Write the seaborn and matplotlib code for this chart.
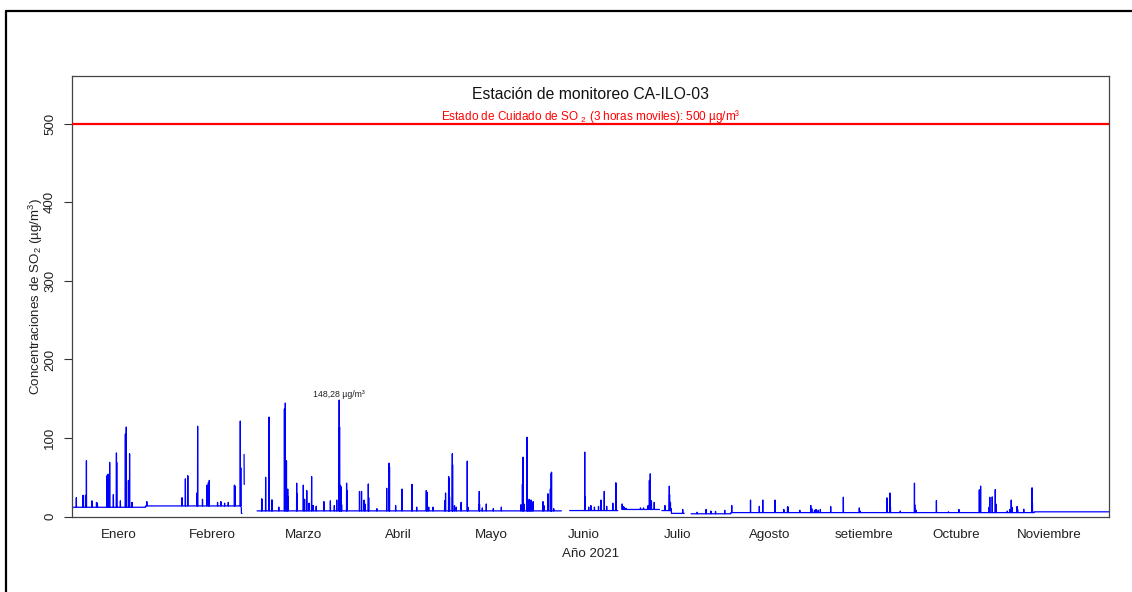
import numpy as np
import pandas as pd
import matplotlib
matplotlib.use("Agg")
import matplotlib.pyplot as plt
from matplotlib.lines import Line2D
import seaborn as sns

# ---- data (day of year 2021, 0 = 1 January; hourly SO2 in ug/m3) ----
# contiguous measurement periods
seg_start = [0.0, 55.25, 56.15, 60.4, 162.4, 179.5, 192.5, 202.0]
seg_end = [55.2, 55.45, 56.25, 159.7, 178.1, 191.7, 199.8, 338.4]

# background level, valid from the given day onward
level_from = [0.0, 24.0, 55.25, 56.15, 60.4, 162.4, 179.5, 192.5, 195.6, 202.0, 215.0, 314.0]
level_value = [11.8, 13.5, 4.0, 41.0, 7.2, 7.6, 9.0, 7.6, 4.0, 3.5, 5.0, 6.0]

# highest hourly value of the year
peak_day = 87.2
peak_value = 148.28

# hourly peaks (day, value)
spike_day = [
    1.4, 3.6, 4.4, 4.7, 6.5, 8.0, 8.3, 11.4, 11.8, 12.3, 13.5, 14.5, 14.6, 15.8,
    17.4, 17.7, 18.4, 18.8, 19.6, 24.4, 35.9, 37.0, 37.8, 40.8, 41.0, 42.6,
    44.0, 44.5, 44.8, 47.5, 48.6, 49.8, 51.0, 53.0, 53.15, 54.9, 55.1,
    55.25, 56.17,
    61.9, 62.0, 63.2, 64.3, 65.2, 65.3, 67.5, 69.3, 69.6, 70.0, 70.4, 70.5,
    73.3, 73.4, 75.5, 75.9, 76.6, 77.3, 78.2, 78.7, 79.7, 82.2, 84.3, 85.6,
    86.4, peak_day, 87.3, 87.5, 87.8, 88.0, 89.6, 89.7, 93.8, 94.5, 95.3, 95.6,
    96.7, 96.8, 99.5, 102.7, 103.5, 103.6, 105.6, 107.7, 110.9, 111.0, 112.5,
    115.6, 115.9, 116.4, 117.8, 121.6, 121.9, 122.9, 123.0, 123.2, 124.1,
    124.2, 124.8, 125.4, 127.0, 129.0, 129.2, 132.9, 133.0, 133.9, 135.2,
    137.5, 140.1, 146.5, 147.0, 147.2, 147.5, 148.5, 148.6, 148.9, 149.2,
    149.5, 149.8, 150.1, 150.5, 153.7, 154.0, 155.3, 156.1, 156.4, 156.5, 157.2,
    167.3, 167.4, 168.6, 169.3, 170.5, 171.8, 172.6, 173.7, 174.5, 176.5,
    177.5, 177.6,
    179.55, 179.8, 180.2, 180.8, 185.5, 186.5, 188.0, 188.4, 188.7, 189.1, 190.0,
    193.5, 194.9, 195.0, 195.3, 195.5, 199.3,
    204.0, 206.9, 208.5, 210.0, 213.0, 215.3, 221.4, 224.3, 225.4, 229.4,
    232.3, 233.5, 233.6, 237.5, 241.1, 241.4, 242.3, 242.8, 243.5, 244.2,
    247.6, 251.7, 256.9, 257.2, 265.9, 266.9, 267.1, 270.3, 274.9, 275.0,
    275.4, 282.1, 286.0, 289.4, 296.1, 296.5, 299.3, 299.5, 300.3, 301.3,
    301.5, 305.2, 306.0, 306.5, 306.7, 308.4, 308.6, 310.6, 313.3, 313.4,
]
spike_value = [
    24, 27, 27, 71, 20, 18, 17, 52, 54, 69, 28, 81, 69, 20,
    105, 114, 46, 80, 18, 19, 24, 48, 52, 30, 115, 22,
    40, 43, 46, 18, 19, 17, 18, 40, 39, 121.6, 62,
    12, 79,
    22.5, 22, 50, 126.7, 21, 21, 12, 137, 144.5, 71, 35, 25,
    42.5, 29, 40, 22, 33, 17, 51, 14, 13, 19, 20, 14,
    21, peak_value, 114, 40, 38, 15, 42.5, 33, 32, 32, 21, 16,
    41.5, 24, 10, 36, 68, 63, 14, 35, 40, 41, 12,
    33, 31, 12, 12, 20, 30, 51, 49, 25, 80,
    66, 14, 12, 18, 70.5, 12, 32, 16, 11, 16,
    10, 12, 15, 41, 75.6, 16, 101, 25, 20, 22,
    18, 21, 17, 19, 19, 14, 29, 35, 55, 56.5, 10,
    82, 25, 12, 14, 12, 13, 21, 32, 13, 17,
    43, 41,
    16, 13, 12, 10.5, 11, 11, 14, 46, 54.4, 20, 18,
    14, 38.7, 28, 18, 10, 9,
    5.5, 9, 7, 6.5, 8, 14, 21, 13, 21, 21,
    9, 12, 12.5, 8, 14, 10, 8, 9, 8, 9,
    12.7, 24.6, 11, 7, 23.8, 30, 12, 7, 42.5, 15,
    8, 20.4, 6, 9, 34, 38.7, 12, 24.6, 25, 34.4,
    16, 7, 9, 21, 12, 12.8, 9, 9.4, 36.6, 17,
]

months = ["Enero", "Febrero", "Marzo", "Abril", "Mayo", "Junio", "Julio",
          "Agosto", "setiembre", "Octubre", "Noviembre"]
# label positions along the day axis
month_pos = [15.3, 45.7, 75.7, 106.4, 136.7, 167.1, 197.5, 227.8, 258.5, 288.5, 318.8]

limit_value = 500

# ---- assemble hourly series ----
frames = []
lv_from = np.array(level_from)
lv_val = np.array(level_value)
sd = np.array(spike_day)
sv = np.array(spike_value, dtype=float)
for k, (a, b) in enumerate(zip(seg_start, seg_end)):
    n = int(round((b - a) * 24)) + 1
    t = a + np.arange(n) / 24.0
    idx = np.searchsorted(lv_from, t + 1e-9, side="right") - 1
    v = lv_val[idx].copy()
    inside = (sd >= a - 1e-6) & (sd <= b + 1e-6)
    for d, val in zip(sd[inside], sv[inside]):
        i = int(round((d - a) * 24))
        i = min(max(i, 0), n - 1)
        v[i] = val
    frames.append(pd.DataFrame({"day": t, "so2": v, "tramo": k}))
df = pd.concat(frames, ignore_index=True)

# ---- figure ----
sns.set_style("white")
plt.rcParams["font.family"] = ["Liberation Sans", "DejaVu Sans"]
plt.rcParams["mathtext.fontset"] = "custom"
plt.rcParams["mathtext.rm"] = "Liberation Sans"
plt.rcParams["mathtext.it"] = "Liberation Sans:italic"
plt.rcParams["mathtext.default"] = "regular"

W, H = 1132, 592
fig = plt.figure(figsize=(W / 100, H / 100), dpi=100)
ax = fig.add_axes([72 / W, 1 - 517 / H, (1109 - 72) / W, (517 - 76) / H])

sns.lineplot(data=df, x="day", y="so2", units="tramo", estimator=None,
             color="#0000FF", lw=0.9, ax=ax, legend=False)

ax.axhline(limit_value, color="#FF0000", lw=1.6, zorder=3)

ax.set_xlim(0, 338.4)
ax.set_ylim(-0.6, 561)

yt = [0, 100, 200, 300, 400, 500]
ax.set_yticks(yt)
ax.set_yticklabels([str(v) for v in yt], rotation=90, va="center", fontsize=9.5,
                   color="#222222")
ax.tick_params(axis="y", length=5.5, width=0.8, direction="out", pad=6,
               color="#333333", left=True)
ax.set_xticks(month_pos)
ax.set_xticklabels(months, fontsize=9.6, color="#222222")
ax.tick_params(axis="x", length=0, pad=8.5)

for s in ax.spines.values():
    s.set_color("#444444")
    s.set_linewidth(0.9)

ax.set_xlabel("Año 2021", fontsize=9.6, color="#222222", labelpad=5)
ax.set_ylabel("Concentraciones de SO$_2$ (µg/m$^3$)", fontsize=9.6,
              color="#222222", labelpad=-1)

ax.text(0.5, 0.958, "Estación de monitoreo CA-ILO-03", transform=ax.transAxes,
        ha="center", va="center", fontsize=11.3, color="#111111")
ax.text(0.5, 0.908, "Estado de Cuidado de SO $_{2}$ (3 horas moviles): "
        f"{limit_value} µg/m³", transform=ax.transAxes, ha="center",
        va="center", fontsize=8.5, color="#FF0000")

peak_label = f"{peak_value:.2f}".replace(".", ",") + " µg/m³"
ax.annotate(peak_label, xy=(peak_day, peak_value), xytext=(0, 1),
            textcoords="offset points", ha="center", va="bottom",
            fontsize=6.3, color="#222222")

# outer frame
fig.add_artist(Line2D([6 / W, 1], [1 - 11 / H, 1 - 11 / H],
                      transform=fig.transFigure, color="black", lw=1.6))
fig.add_artist(Line2D([6 / W, 6 / W], [0, 1 - 11 / H],
                      transform=fig.transFigure, color="black", lw=1.6))

fig.savefig("out.png", dpi=100)
